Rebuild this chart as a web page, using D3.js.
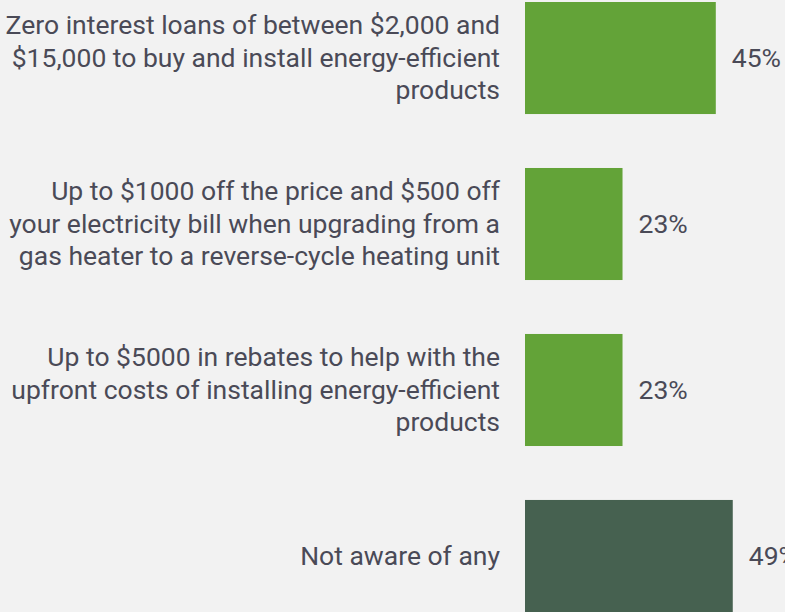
<!DOCTYPE html>
<html>
<head>
<meta charset="utf-8">
<script src="https://cdn.jsdelivr.net/npm/d3@7"></script>
<style>
  html, body { margin: 0; padding: 0; background: #f2f2f2; }
  svg { display: block; }
</style>
</head>
<body>
<div id="chart"></div>
<script>
const categories = [
  ["Zero interest loans of between $2,000 and", "$15,000 to buy and install energy-efficient", "products"],
  ["Up to $1000 off the price and $500 off", "your electricity bill when upgrading from a", "gas heater to a reverse-cycle heating unit"],
  ["Up to $5000 in rebates to help with the", "upfront costs of installing energy-efficient", "products"],
  ["Not aware of any"]
];
const values = [45, 23, 23, 49];
const valueLabels = ["45%", "23%", "23%", "49%"];
const barColors = ["#63a338", "#63a338", "#63a338", "#466150"];

const W = 785, H = 612;
const svg = d3.select("#chart").append("svg").attr("width", W).attr("height", H);
svg.append("rect").attr("width", W).attr("height", H).attr("fill", "#f2f2f2");

const keys = categories.map((c, i) => i);
const y = d3.scaleBand().domain(keys).range([2, 612]).paddingInner(0.325).paddingOuter(0);
const x = d3.scaleLinear().domain([0, 100]).range([525, 949]);

const g = svg.append("g");
g.selectAll("rect.bar").data(values).join("rect")
  .attr("class", "bar")
  .attr("x", x(0))
  .attr("y", (d, i) => y(i))
  .attr("width", d => x(d) - x(0))
  .attr("height", y.bandwidth())
  .attr("fill", (d, i) => barColors[i]);

const fontFam = "Roboto, 'Noto Sans', sans-serif";
const textColor = "#4a4a57";
const lh = 32.5, fs = 26.5;

g.selectAll("text.cat").data(categories).join("text")
  .attr("class", "cat")
  .attr("text-anchor", "end")
  .attr("font-family", fontFam)
  .attr("font-size", fs)
  .attr("fill", textColor)
  .each(function(lines, i) {
    const cy = y(i) + y.bandwidth() / 2;
    const start = cy - (lines.length - 1) * lh / 2;
    d3.select(this).selectAll("tspan").data(lines).join("tspan")
      .attr("x", 500)
      .attr("y", (l, j) => start + j * lh)
      .attr("dy", "0.33em")
      .text(l => l);
  });

g.selectAll("text.val").data(values).join("text")
  .attr("class", "val")
  .attr("x", d => x(d) + 16)
  .attr("y", (d, i) => y(i) + y.bandwidth() / 2)
  .attr("dy", "0.33em")
  .attr("font-family", fontFam)
  .attr("font-size", fs)
  .attr("fill", textColor)
  .text((d, i) => valueLabels[i]);
</script>
</body>
</html>
